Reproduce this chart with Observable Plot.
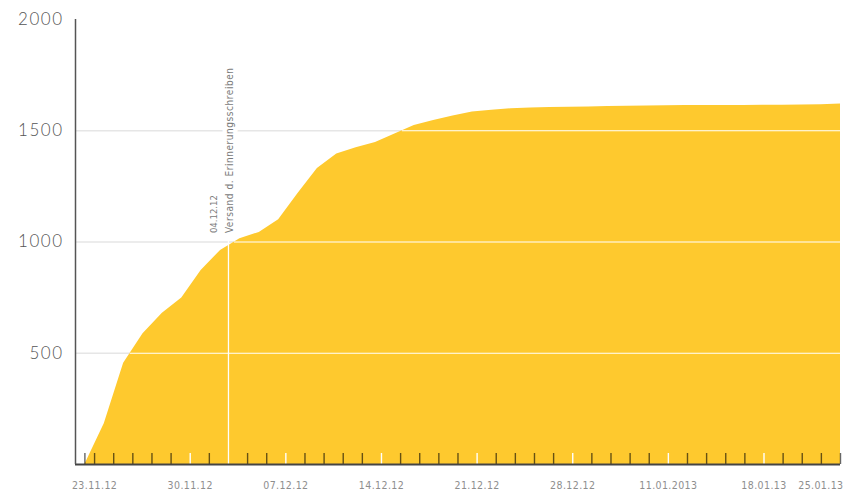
<!DOCTYPE html>
<html>
<head>
<meta charset="utf-8">
<script src="https://cdn.jsdelivr.net/npm/d3@7"></script>
<script src="https://cdn.jsdelivr.net/npm/@observablehq/plot@0.6"></script>
<style>
  html, body { margin: 0; padding: 0; background: #fff; }
  #chart svg { display: block; }
  .ylab { letter-spacing: 1.5px; font-weight: 300; }
  .xlab { letter-spacing: 0.4px; }
  .annot { letter-spacing: 0.55px; }
  .adate { letter-spacing: 0px; }
</style>
</head>
<body>
<div id="chart"></div>
<script>
// Cumulative count per business day (index 0 = start of series)
const values = [0, 183, 455, 588, 680, 748, 872, 962, 1015, 1043,
                1100, 1218, 1330, 1395, 1424, 1447, 1485, 1524, 1546, 1566,
                1584, 1592, 1599, 1602, 1604, 1606, 1607, 1609, 1610, 1611,
                1612, 1613, 1613, 1614, 1614, 1615, 1615, 1616, 1617, 1620];
const tickCount = 40;
const labelTicks = [0, 5, 10, 15, 20, 25, 30, 35];
const tickLabels = ["23.11.12", "30.11.12", "07.12.12", "14.12.12", "21.12.12", "28.12.12", "11.01.2013", "18.01.13"];
const lastLabel = "25.01.13";
const yTicks = [500, 1000, 1500, 2000];
const gridValues = [500, 1000, 1500];
const annotTick = 7;
const annotDate = "04.12.12";
const annotText = "Versand d. Erinnerungsschreiben";
const annotValue = 1040;

const data = values.map((v, i) => ({i, v}));
const last = values.length - 1;
const xMin = -0.485;
// day ticks spread evenly from half a step after the first point to the last point
const tickPos = t => 0.5 + t * (last - 0.5) / (tickCount - 1);
const ticks = d3.range(tickCount);
const darkTicks = [0].concat(ticks.filter(t => !labelTicks.slice(1).includes(t) && t !== annotTick).map(tickPos));
const whiteTicks = labelTicks.slice(1).map(tickPos);

function crossing(g) {
  for (let j = 1; j < values.length; j++) {
    if (values[j] >= g) return j - 1 + (g - values[j - 1]) / (values[j] - values[j - 1]);
  }
  return last;
}
const whiteGrid = gridValues.map(g => ({g, x1: crossing(g), x2: last}));
const labels = labelTicks.map((t, k) => ({x: tickPos(t), text: tickLabels[k]}));

const narrow = "'Liberation Sans Narrow', 'DejaVu Sans Condensed', sans-serif";

const marks = [
  Plot.ruleY(gridValues, {stroke: "#e6e6e6", strokeWidth: 1.5}),
  Plot.areaY(data, {x: "i", y: "v", fill: "#fec92e"}),
  Plot.ruleY(whiteGrid, {y: "g", x1: "x1", x2: "x2", stroke: "#fff", strokeWidth: 1.2}),
  Plot.ruleX([tickPos(annotTick)], {y1: 0, y2: annotValue, stroke: "#fff", strokeWidth: 1.3}),
  Plot.ruleX(darkTicks, {stroke: "#000", strokeOpacity: 0.6, strokeWidth: 1.4, insetTop: 434}),
  Plot.ruleX(whiteTicks, {stroke: "#fff", strokeWidth: 1.4, insetTop: 434}),
  Plot.ruleY([0], {stroke: "#444", strokeWidth: 2}),
  Plot.ruleX([xMin], {stroke: "#555", strokeWidth: 1.5})
];
const yLab = Plot.text(yTicks, {x: xMin, y: d => d, text: d => String(d), textAnchor: "end", dx: -12, fontSize: 17, fill: "#555", fontFamily: "Lato, sans-serif"});
const xLab = Plot.text(labels, {x: "x", y: 0, text: "text", dy: 21, fontSize: 10.5, fill: "#8e8e8e", fontFamily: narrow});
const xLast = Plot.text([lastLabel], {x: last, y: 0, text: d => d, textAnchor: "end", dx: 3, dy: 21, fontSize: 10.5, fill: "#8e8e8e", fontFamily: narrow});
const aText = Plot.text([annotText], {x: tickPos(annotTick), y: annotValue, text: d => d, rotate: -90, textAnchor: "start", dx: 1, fontSize: 10, fill: "#7a7a7a", stroke: "#fff", strokeWidth: 9, fontFamily: narrow});
const aDate = Plot.text([annotDate], {x: tickPos(annotTick), y: annotValue, text: d => d, rotate: -90, textAnchor: "start", dx: -14.5, fontSize: 9.5, fill: "#7a7a7a", fontFamily: narrow});
const textMarks = [[yLab, "ylab"], [xLab, "xlab"], [xLast, "xlab"], [aText, "annot"], [aDate, "adate"]];

const chart = Plot.plot({
  width: 845,
  height: 492,
  marginTop: 19,
  marginBottom: 28,
  marginLeft: 75,
  marginRight: 5,
  x: {domain: [xMin, last], axis: null},
  y: {domain: [0, 2000], axis: null},
  style: {background: "#fff", fontFamily: "Lato, sans-serif"},
  marks: marks.concat(textMarks.map(d => d[0]))
});
// tag the text groups (rendered after the other marks, in order) for letter-spacing
const groups = Array.from(chart.querySelectorAll(":scope > g"));
const textGroups = groups.slice(groups.length - textMarks.length);
textGroups.forEach((g, k) => g.classList.add(textMarks[k][1]));
document.getElementById("chart").appendChild(chart);
</script>
</body>
</html>
